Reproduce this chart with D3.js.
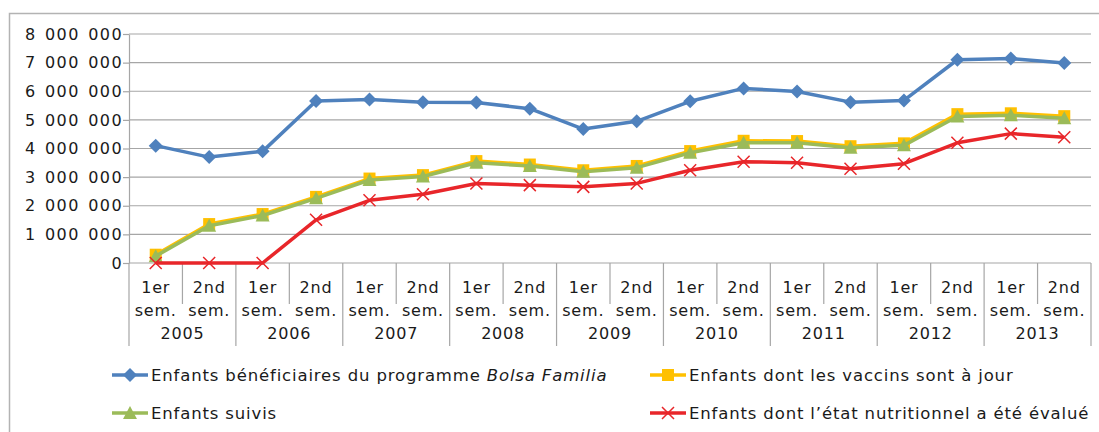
<!DOCTYPE html>
<html>
<head>
<meta charset="utf-8">
<script src="https://cdn.jsdelivr.net/npm/d3@7"></script>
<style>
  body { margin: 0; background: #fff; }
  #c { width: 1099px; height: 432px; }
  text { font-family: "DejaVu Sans", sans-serif; fill: #1a1a1a; letter-spacing: 0.8px; }
</style>
</head>
<body>
<div id="c"></div>
<script>
"use strict";

const years = ["2005","2006","2007","2008","2009","2010","2011","2012","2013"]
const semesters = ["1er", "2nd"]
const yTicks = [0,1000000,2000000,3000000,4000000,5000000,6000000,7000000,8000000]

const beneficiaires = [4100000,3700000,3900000,5660000,5710000,5620000,5610000,5390000,4680000,4950000,5650000,6100000,5990000,5620000,5680000,7100000,7140000,6990000]
const vaccins = [290000,1360000,1710000,2310000,2950000,3070000,3560000,3440000,3240000,3390000,3910000,4270000,4260000,4080000,4180000,5200000,5230000,5130000]
const suivis = [240000,1300000,1660000,2260000,2900000,3020000,3500000,3390000,3190000,3330000,3850000,4200000,4200000,4030000,4110000,5120000,5160000,5060000]
const nutrition = [0,0,0,1510000,2190000,2400000,2780000,2720000,2660000,2780000,3240000,3540000,3500000,3290000,3470000,4200000,4520000,4390000]

const seriesNames = [
    "Enfants bénéficiaires du programme ",
    "Enfants dont les vaccins sont à jour",
    "Enfants suivis",
    "Enfants dont l\u2019état nutritionnel a été évalué"
]

let svg, xScale, yScale

window.onload = function() {
    drawChart()
}

function drawChart() {
    const left = 129, right = 1091, top = 34, bottom = 263

    svg = d3.select('#c').append('svg')
        .attr('width', 1099).attr('height', 432)

    // outer frame
    svg.append('path')
        .attr('d', 'M9.5,432 V13.5 H1099')
        .attr('fill', 'none').attr('stroke', '#b3b3b3').attr('stroke-width', 1.5)

    let cats = []
    years.forEach(y => semesters.forEach(s => cats.push(y + '-' + s)))

    xScale = d3.scaleBand().domain(cats).range([left, right])
    yScale = d3.scaleLinear().domain([0, 8000000]).range([bottom, top])

    // grid
    svg.append('g').selectAll('line')
        .data(yTicks.slice(1))
        .enter().append('line')
            .attr('x1', left).attr('x2', right)
            .attr('y1', d => yScale(d)).attr('y2', d => yScale(d))
            .attr('stroke', '#a6a6a6').attr('stroke-width', 1.2)

    // y axis
    const fmt = d => d3.format(",")(d).replace(/,/g, ' ')
    let yAxis = svg.append('g')
        .attr('transform', 'translate(' + left + ',0)')
        .call(d3.axisLeft(yScale).tickValues(yTicks).tickSize(6).tickSizeOuter(0).tickFormat(fmt))
    yAxis.select('.domain').attr('stroke', '#a6a6a6').attr('stroke-width', 1.2)
    yAxis.selectAll('.tick line').attr('stroke', '#a6a6a6').attr('stroke-width', 1.2)
    yAxis.selectAll('.tick text')
        .attr('x', -6)
        .style('font-size', '16px')
        .style('font-family', '"DejaVu Sans", sans-serif')
        .style('letter-spacing', '1.4px')
        .style('word-spacing', '2px')
        .attr('fill', '#1a1a1a')

    // x axis
    let xg = svg.append('g')
    xg.append('line')
        .attr('x1', left).attr('x2', right)
        .attr('y1', bottom).attr('y2', bottom)
        .attr('stroke', '#a6a6a6').attr('stroke-width', 1.2)
    cats.forEach((c, i) => {
        let x0 = xScale(c)
        let isYearStart = i % 2 == 0
        xg.append('line')
            .attr('x1', x0).attr('x2', x0)
            .attr('y1', bottom).attr('y2', isYearStart ? 346 : 304)
            .attr('stroke', '#a6a6a6').attr('stroke-width', 1.2)
        let cx = x0 + xScale.bandwidth() / 2
        xg.append('text').attr('x', cx).attr('y', 293)
            .attr('text-anchor', 'middle').style('font-size', '16px')
            .text(c.split('-')[1])
        xg.append('text').attr('x', cx).attr('y', 316)
            .attr('text-anchor', 'middle').style('font-size', '16px')
            .text('sem.')
    })
    xg.append('line')
        .attr('x1', right).attr('x2', right)
        .attr('y1', bottom).attr('y2', 346)
        .attr('stroke', '#a6a6a6').attr('stroke-width', 1.2)
    years.forEach(y => {
        let cx = xScale(y + '-1er') + xScale.bandwidth()
        xg.append('text').attr('x', cx).attr('y', 339)
            .attr('text-anchor', 'middle').style('font-size', '16px')
            .text(y)
    })

    const series = [
        {data: beneficiaires, color: '#4f81bd', marker: 'diamond'},
        {data: vaccins, color: '#ffc000', marker: 'square'},
        {data: suivis, color: '#9bbb59', marker: 'triangle'},
        {data: nutrition, color: '#e8262a', marker: 'cross'}
    ]

    const cx = i => xScale(cats[i]) + xScale.bandwidth() / 2
    series.forEach(s => {
        let g = svg.append('g')
        g.append('path')
            .datum(s.data)
            .attr('fill', 'none')
            .attr('stroke', s.color)
            .attr('stroke-width', 3.5)
            .attr('stroke-linejoin', 'round')
            .attr('d', d3.line().x((d, i) => cx(i)).y(d => yScale(d)))
        s.data.forEach((d, i) => drawMarker(g, s.marker, cx(i), yScale(d), s.color))
    })

    // legend
    const legend = [
        {x: 112, y: 375, s: series[0], name: seriesNames[0], italic: 'Bolsa Familia'},
        {x: 650, y: 375, s: series[1], name: seriesNames[1]},
        {x: 112, y: 413, s: series[2], name: seriesNames[2]},
        {x: 650, y: 413, s: series[3], name: seriesNames[3]}
    ]
    legend.forEach(l => {
        let g = svg.append('g').attr('transform', 'translate(' + l.x + ',' + l.y + ')')
        g.append('line').attr('x1', 0).attr('x2', 36).attr('y1', 0).attr('y2', 0)
            .attr('stroke', l.s.color).attr('stroke-width', 3.5)
        drawMarker(g, l.s.marker, 18, 0, l.s.color)
        let t = g.append('text').attr('x', 39).attr('y', 0)
            .attr('dominant-baseline', 'central')
            .style('font-size', '16.5px')
            .style('letter-spacing', '0.85px')
        t.append('tspan').text(l.name)
        if (l.italic) t.append('tspan').style('font-style', 'italic').text(l.italic)
    })
}

function drawMarker(g, type, x, y, color) {
    if (type == 'diamond') {
        g.append('path').attr('d', 'M0,-7 L7,0 L0,7 L-7,0 Z')
            .attr('transform', 'translate(' + x + ',' + y + ')').attr('fill', color)
    } else if (type == 'square') {
        g.append('rect').attr('x', x - 6).attr('y', y - 6).attr('width', 12).attr('height', 12)
            .attr('fill', color)
    } else if (type == 'triangle') {
        g.append('path').attr('d', 'M0,-7 L7,6 L-7,6 Z')
            .attr('transform', 'translate(' + x + ',' + y + ')').attr('fill', color)
    } else if (type == 'cross') {
        g.append('path').attr('d', 'M-6,-6 L6,6 M-6,6 L6,-6')
            .attr('transform', 'translate(' + x + ',' + y + ')')
            .attr('stroke', color).attr('stroke-width', 1.5).attr('fill', 'none')
    }
}
</script>
</body>
</html>
